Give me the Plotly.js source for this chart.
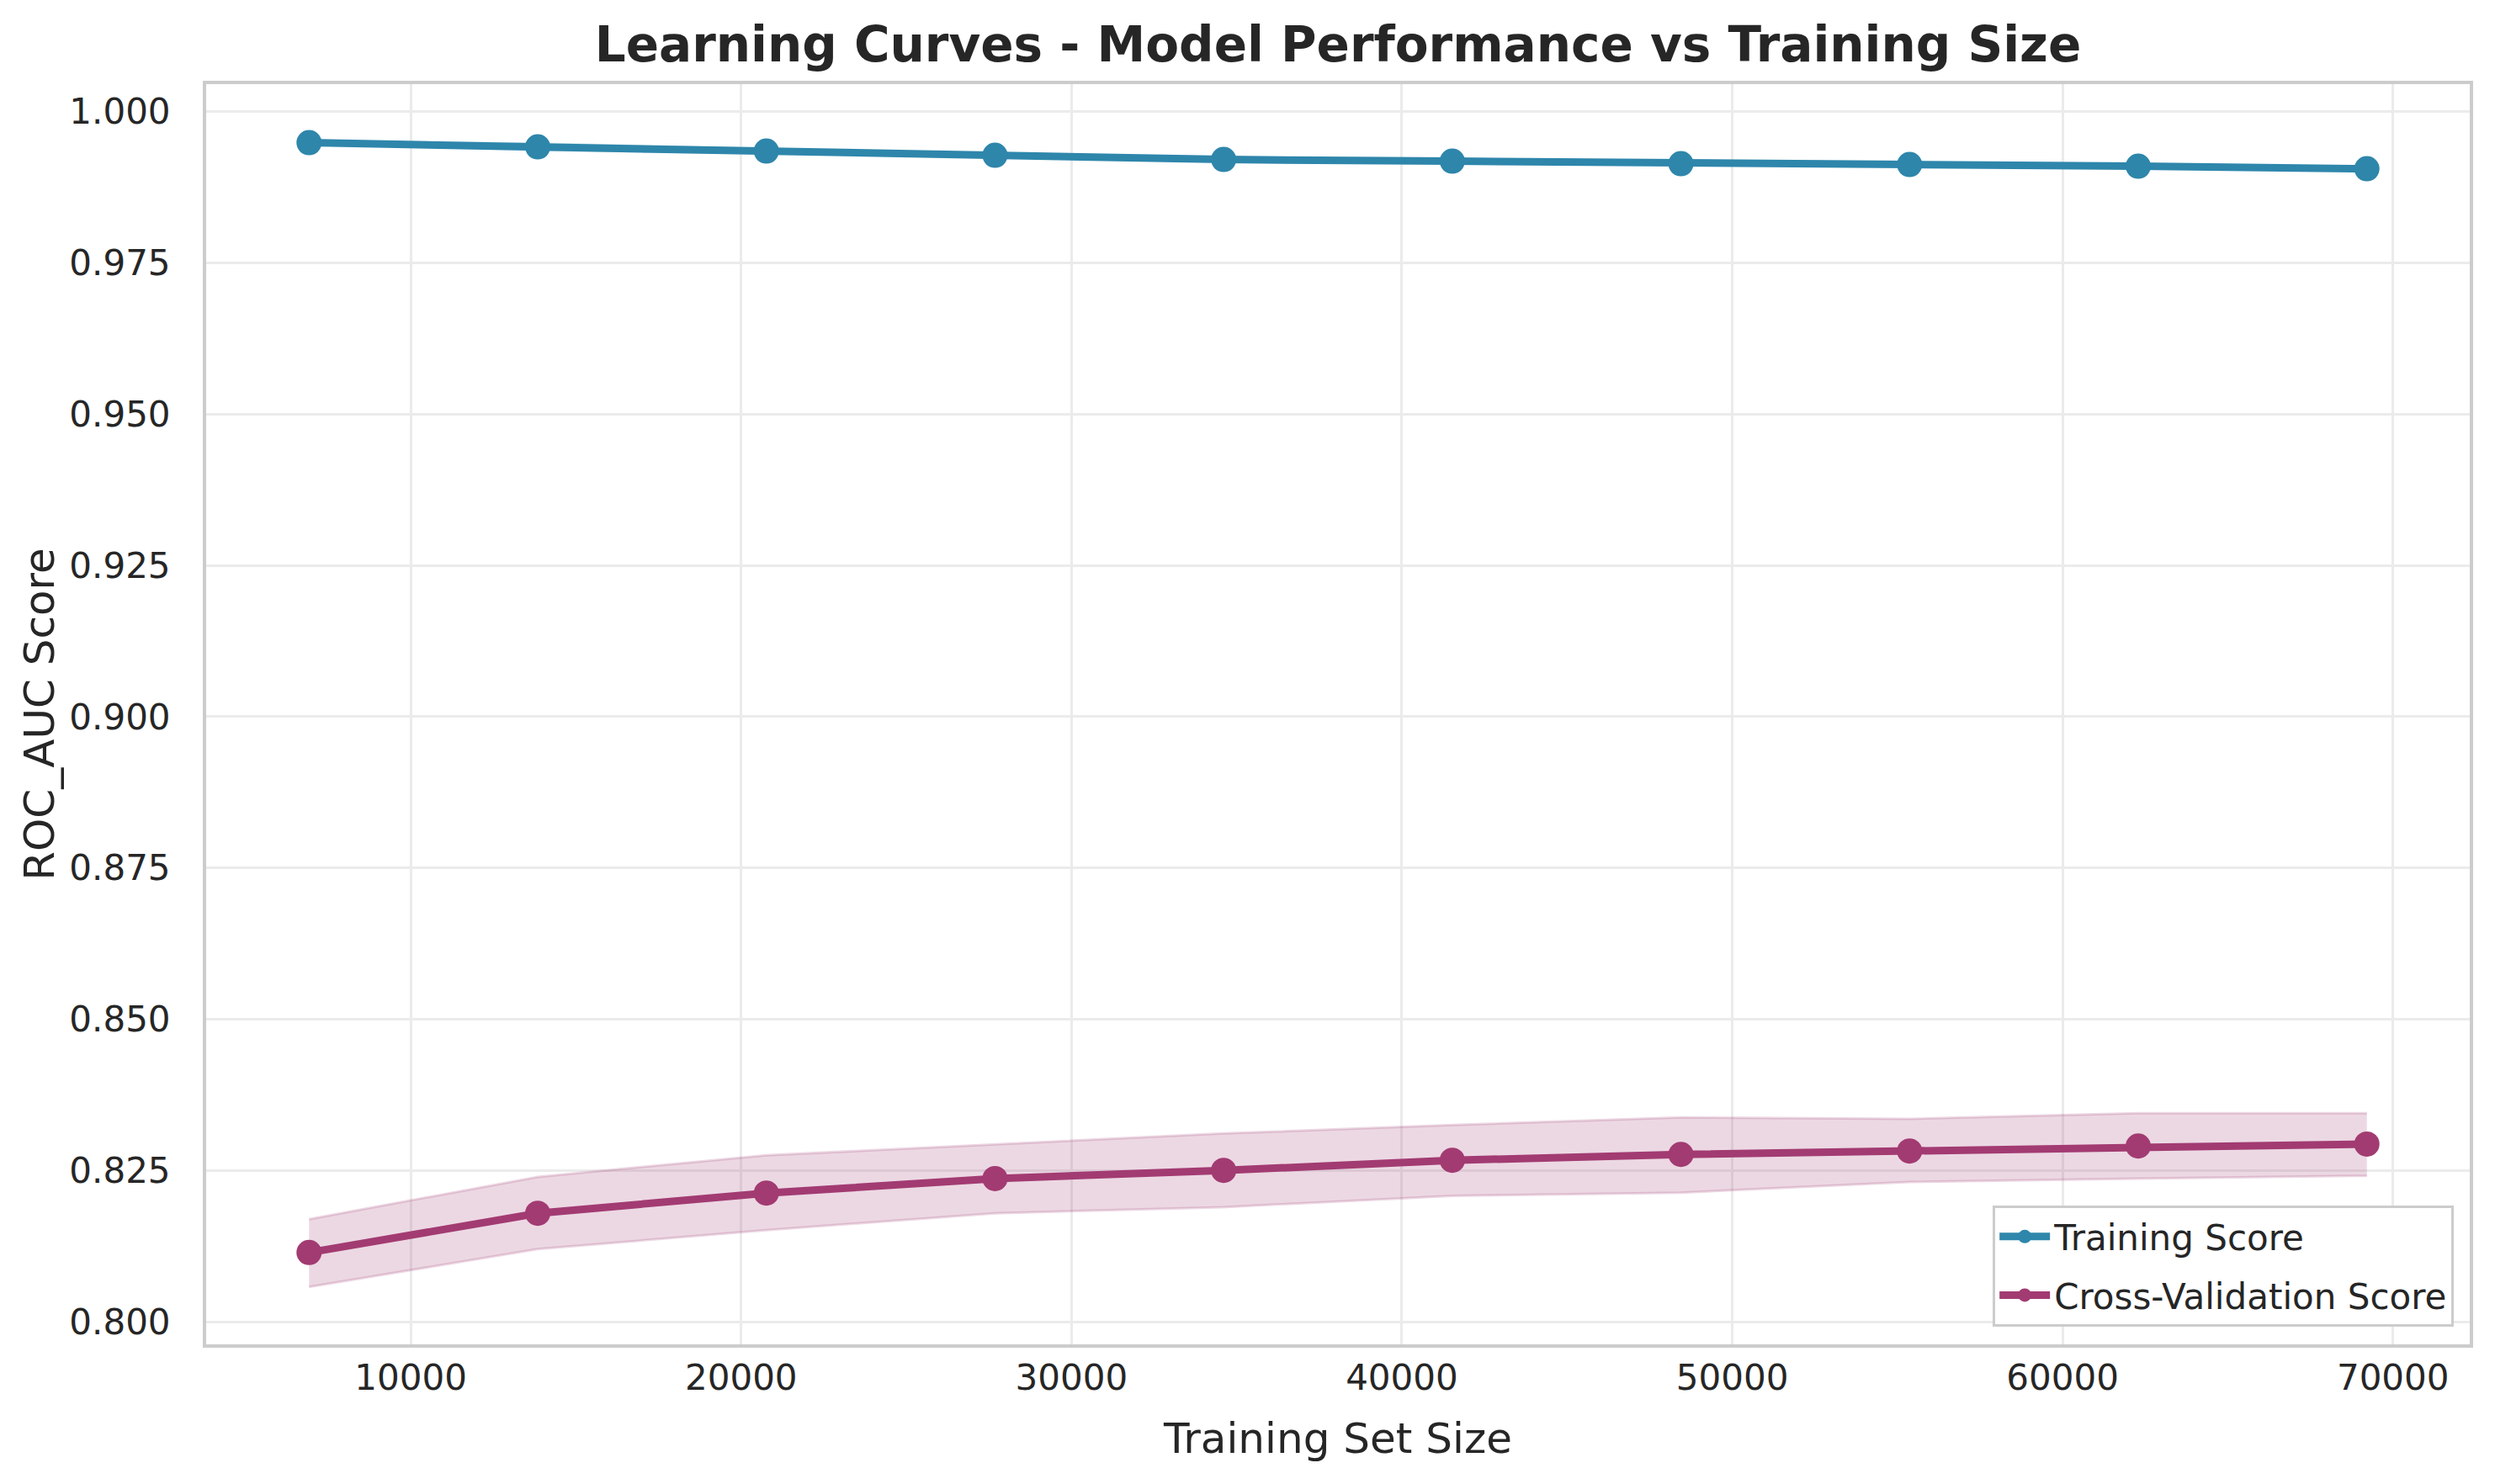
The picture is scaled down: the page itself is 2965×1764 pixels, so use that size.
<!DOCTYPE html>
<html>
<head>
<meta charset="utf-8">
<script src="https://cdn.plot.ly/plotly-3.0.1.min.js"></script>
<style>
  html, body { margin: 0; padding: 0; background: #ffffff; }
  #chart { width: 2965px; height: 1764px; }
</style>
</head>
<body>
<div id="chart"></div>
<script>
// training set sizes
var train_sizes = [6921, 13842, 20763, 27684, 34605, 41526, 48447, 55368, 62289, 69210];

// mean scores
var train_mean = [0.99486, 0.99417, 0.99347, 0.99278, 0.99208, 0.99180, 0.99139, 0.99125, 0.99097, 0.99055];
var cv_mean = [0.81143, 0.81791, 0.82125, 0.82365, 0.82500, 0.82667, 0.82764, 0.82820, 0.82903, 0.82935];

// +/- one std bands
var train_upper = [0.99505, 0.99470, 0.99380, 0.99300, 0.99230, 0.99200, 0.99160, 0.99140, 0.99120, 0.99080];
var train_lower = [0.99467, 0.99370, 0.99310, 0.99250, 0.99180, 0.99160, 0.99120, 0.99110, 0.99080, 0.99030];
var cv_upper = [0.81694, 0.82393, 0.82750, 0.82935, 0.83111, 0.83250, 0.83375, 0.83351, 0.83444, 0.83444];
var cv_lower = [0.80574, 0.81199, 0.81514, 0.81792, 0.81893, 0.82078, 0.82133, 0.82310, 0.82365, 0.82411];

var y_ticks = [0.800, 0.825, 0.850, 0.875, 0.900, 0.925, 0.950, 0.975, 1.000];
var x_ticks = [10000, 20000, 30000, 40000, 50000, 60000, 70000];

var blue = '#2E86AB';
var plum = '#A23B72';
var blue_fill = 'rgba(46,134,171,0.2)';
var plum_fill = 'rgba(162,59,114,0.2)';
var txt = '#262626';
var font_family = 'DejaVu Sans, sans-serif';

var train_band_hi = {
  x: train_sizes, y: train_upper,
  mode: 'lines', type: 'scatter',
  line: {color: blue_fill, width: 3},
  showlegend: false, hoverinfo: 'skip'
};

var train_band_lo = {
  x: train_sizes, y: train_lower,
  mode: 'lines', type: 'scatter',
  fill: 'tonexty', fillcolor: blue_fill,
  line: {color: blue_fill, width: 3},
  showlegend: false, hoverinfo: 'skip'
};

var cv_band_hi = {
  x: train_sizes, y: cv_upper,
  mode: 'lines', type: 'scatter',
  line: {color: plum_fill, width: 3},
  showlegend: false, hoverinfo: 'skip'
};

var cv_band_lo = {
  x: train_sizes, y: cv_lower,
  mode: 'lines', type: 'scatter',
  fill: 'tonexty', fillcolor: plum_fill,
  line: {color: plum_fill, width: 3},
  showlegend: false, hoverinfo: 'skip'
};

var train_line = {
  x: train_sizes, y: train_mean,
  name: 'Training Score',
  legendgroup: 'train',
  mode: 'lines+markers', type: 'scatter',
  line: {color: blue, width: 9},
  marker: {color: blue, size: 30}
};

var cv_line = {
  x: train_sizes, y: cv_mean,
  name: 'Cross-Validation Score',
  legendgroup: 'cv',
  mode: 'lines+markers', type: 'scatter',
  line: {color: plum, width: 9},
  marker: {color: plum, size: 30}
};

var layout = {
  width: 2965,
  height: 1764,
  margin: {l: 245, r: 30, t: 100, b: 166, pad: 0},
  paper_bgcolor: '#ffffff',
  plot_bgcolor: '#ffffff',
  font: {family: font_family, color: txt, size: 42},
  title: {
    text: 'Learning Curves - Model Performance vs Training Size',
    font: {family: font_family, size: 58, color: txt, weight: 'bold'},
    x: 0.5, xref: 'paper', xanchor: 'center',
    y: 1 - 53 / 1764, yref: 'container', yanchor: 'middle'
  },
  xaxis: {
    range: [3806, 72325],
    tickvals: x_ticks,
    tickformat: 'd',
    ticks: '',
    ticklabelstandoff: 0,
    tickfont: {size: 42, color: txt},
    showgrid: true, gridcolor: '#ebebeb', gridwidth: 3,
    zeroline: false,
    showline: true, linecolor: '#cccccc', linewidth: 4, mirror: true,
    title: {text: 'Training Set Size', font: {size: 50, color: txt}, standoff: 32}
  },
  yaxis: {
    range: [0.79625, 1.00454],
    tickvals: y_ticks,
    tickformat: '.3f',
    ticks: '',
    ticklabelstandoff: 30,
    tickfont: {size: 42, color: txt},
    showgrid: true, gridcolor: '#ebebeb', gridwidth: 3,
    zeroline: false,
    showline: true, linecolor: '#cccccc', linewidth: 4, mirror: true,
    title: {text: 'ROC_AUC Score', font: {size: 50, color: txt}, standoff: 3}
  },
  legend: {
    x: 0.993, xanchor: 'right',
    y: 0.014, yanchor: 'bottom',
    traceorder: 'grouped',
    bgcolor: '#ffffff',
    bordercolor: '#cccccc', borderwidth: 3,
    font: {size: 42, color: txt},
    itemwidth: 60,
    tracegroupgap: 12
  },
  showlegend: true
};

Plotly.newPlot('chart',
  [train_band_hi, train_band_lo, cv_band_hi, cv_band_lo, train_line, cv_line],
  layout,
  {staticPlot: true, displayModeBar: false});
</script>
</body>
</html>
